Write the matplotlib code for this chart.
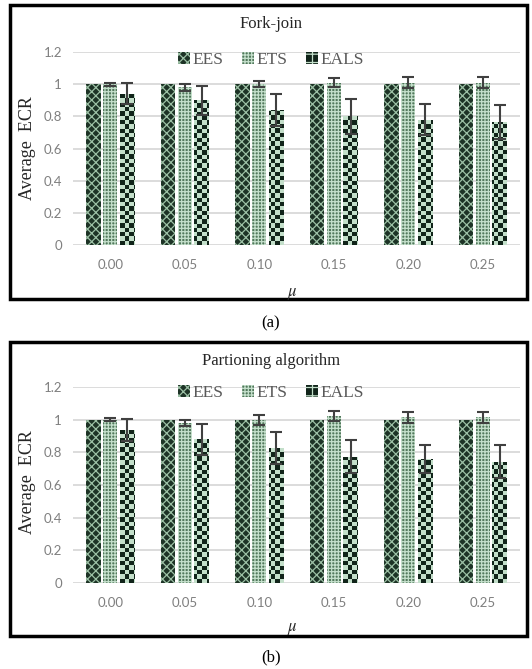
import numpy as np
import matplotlib
matplotlib.use("Agg")
import matplotlib.pyplot as plt
from matplotlib.colors import ListedColormap
from matplotlib.patches import Rectangle, Patch

# Dados
mu_labels = ['0.00', '0.05', '0.10', '0.15', '0.20', '0.25']
series = ['EES', 'ETS', 'EALS']

fj_ees = [1.0, 1.0, 1.0, 1.0, 1.0, 1.0]
fj_ets = [1.00, 0.98, 1.00, 1.01, 1.01, 1.01]
fj_ets_err = [0.01, 0.02, 0.02, 0.03, 0.035, 0.035]
fj_eals = [0.94, 0.90, 0.84, 0.80, 0.78, 0.765]
fj_eals_err = [0.065, 0.09, 0.10, 0.11, 0.095, 0.105]

pa_ees = [1.0, 1.0, 1.0, 1.0, 1.0, 1.0]
pa_ets = [1.00, 0.98, 1.00, 1.02, 1.015, 1.015]
pa_ets_err = [0.01, 0.02, 0.03, 0.03, 0.035, 0.035]
pa_eals = [0.937, 0.88, 0.826, 0.773, 0.76, 0.743]
pa_eals_err = [0.065, 0.095, 0.10, 0.10, 0.085, 0.10]

# Cores / estilos
ESCURO = '#1d3326'
CLARO = '#c3dfca'
MEDIO = '#52785c'
CINZA_GRADE = '#d9d9d9'
CINZA_TEXTO = '#7f7f7f'

plt.rcParams['hatch.linewidth'] = 0.9
plt.rcParams['mathtext.fontset'] = 'stix'

fig = plt.figure(figsize=(5.32, 6.69), dpi=100)
W, H = 532, 669


def fx(px):
    return px / W


def fy(py):
    return 1 - py / H


def painel(ax, ees, ets, ets_err, eals, eals_err):
    x = np.arange(len(mu_labels))
    larg = 0.19
    passo = 0.225
    ax.set_xlim(-0.5, len(mu_labels) - 0.5)
    ax.set_ylim(0, 1.2)

    ax.bar(x - passo, ees, larg, facecolor=ESCURO, edgecolor='#9cc0a5',
           hatch='xxxx', linewidth=0, zorder=2)
    ax.bar(x, ets, larg, facecolor=MEDIO, edgecolor='#c4dfcb',
           hatch='+++++', linewidth=0, zorder=2)
    barras = ax.bar(x + passo, eals, larg, facecolor=CLARO, linewidth=0, zorder=2)

    # textura xadrez para EALS
    lin, col = 45, 104
    xadrez = (np.add.outer(np.arange(lin), np.arange(col)) % 2).astype(float)
    cmap = ListedColormap([CLARO, '#11241a'])
    for b in barras:
        im = ax.imshow(xadrez, extent=(-0.5, len(mu_labels) - 0.5, 0, 1.2),
                       aspect='auto', cmap=cmap, interpolation='nearest',
                       origin='lower', zorder=2.5)
        im.set_clip_path(b)
    ax.set_xlim(-0.5, len(mu_labels) - 0.5)
    ax.set_ylim(0, 1.2)

    ax.errorbar(x, ets, yerr=ets_err, fmt='none', ecolor='#404040',
                capsize=4, elinewidth=1.5, capthick=1.5, zorder=4)
    ax.errorbar(x + passo, eals, yerr=eals_err, fmt='none', ecolor='#404040',
                capsize=4, elinewidth=1.5, capthick=1.5, zorder=4)

    ax.set_xticks(x)
    ax.set_xticklabels(mu_labels)
    ax.set_yticks([0, 0.2, 0.4, 0.6, 0.8, 1.0, 1.2])
    ax.set_yticklabels(['0', '0.2', '0.4', '0.6', '0.8', '1', '1.2'])
    ax.tick_params(length=0, labelsize=9.5, colors=CINZA_TEXTO)
    ax.tick_params(axis='y', pad=8)
    ax.tick_params(axis='x', pad=10)
    for t in ax.get_xticklabels() + ax.get_yticklabels():
        t.set_family('Lato')
    for s in ax.spines.values():
        s.set_visible(False)
    ax.grid(axis='y', color=CINZA_GRADE, linewidth=1.3, zorder=0)
    ax.set_axisbelow(True)
    ax.patch.set_alpha(0)


def legenda(cy):
    handles = [
        Patch(facecolor=ESCURO, edgecolor='#9cc0a5', hatch='xxxx', linewidth=0),
        Patch(facecolor=MEDIO, edgecolor='#c4dfcb', hatch='+++++', linewidth=0),
        Patch(facecolor='#11241a', edgecolor=CLARO, hatch='++', linewidth=0),
    ]
    fig.legend(handles, series, loc='center', ncol=3,
               bbox_to_anchor=(fx(271), fy(cy)), frameon=False,
               handlelength=0.65, handleheight=0.65, handletextpad=0.15,
               columnspacing=1.1, prop={'family': 'Liberation Serif', 'size': 12.5},
               labelcolor='#595959')


# Painel (a)
ax1 = fig.add_axes([fx(73), fy(245), fx(520) - fx(73), fy(52) - fy(245)])
painel(ax1, fj_ees, fj_ets, fj_ets_err, fj_eals, fj_eals_err)
# Painel (b)
ax2 = fig.add_axes([fx(73), fy(583), fx(520) - fx(73), fy(387) - fy(583)])
painel(ax2, pa_ees, pa_ets, pa_ets_err, pa_eals, pa_eals_err)

serif = 'Liberation Serif'
for topo, base, titulo, cy_leg, cy_y, cy_mu, cap, cy_cap in [
        (5, 299, 'Fork-join', 60, 148, 293, '(a)', 323),
        (342, 636, 'Partioning algorithm', 393, 482, 628, '(b)', 657)]:
    fig.patches.append(Rectangle((fx(10), fy(base)), fx(527) - fx(10), fy(topo) - fy(base),
                                 transform=fig.transFigure, fill=False,
                                 edgecolor='black', linewidth=2.5))
    fig.text(fx(271), fy(topo + 19), titulo, ha='center', va='center',
             family=serif, fontsize=12, color='#262626')
    legenda(cy_leg)
    fig.text(fx(28), fy(cy_y), 'Average  ECR', rotation=90, ha='center', va='center',
             family=serif, fontsize=13, color='#262626')
    fig.text(fx(292), fy(cy_mu), r'$\mu$', ha='center', va='center',
             fontsize=12, color='#262626')
    fig.text(fx(271), fy(cy_cap), cap, ha='center', va='center',
             family=serif, fontsize=12, color='black')

fig.savefig('out.png', dpi=100)
